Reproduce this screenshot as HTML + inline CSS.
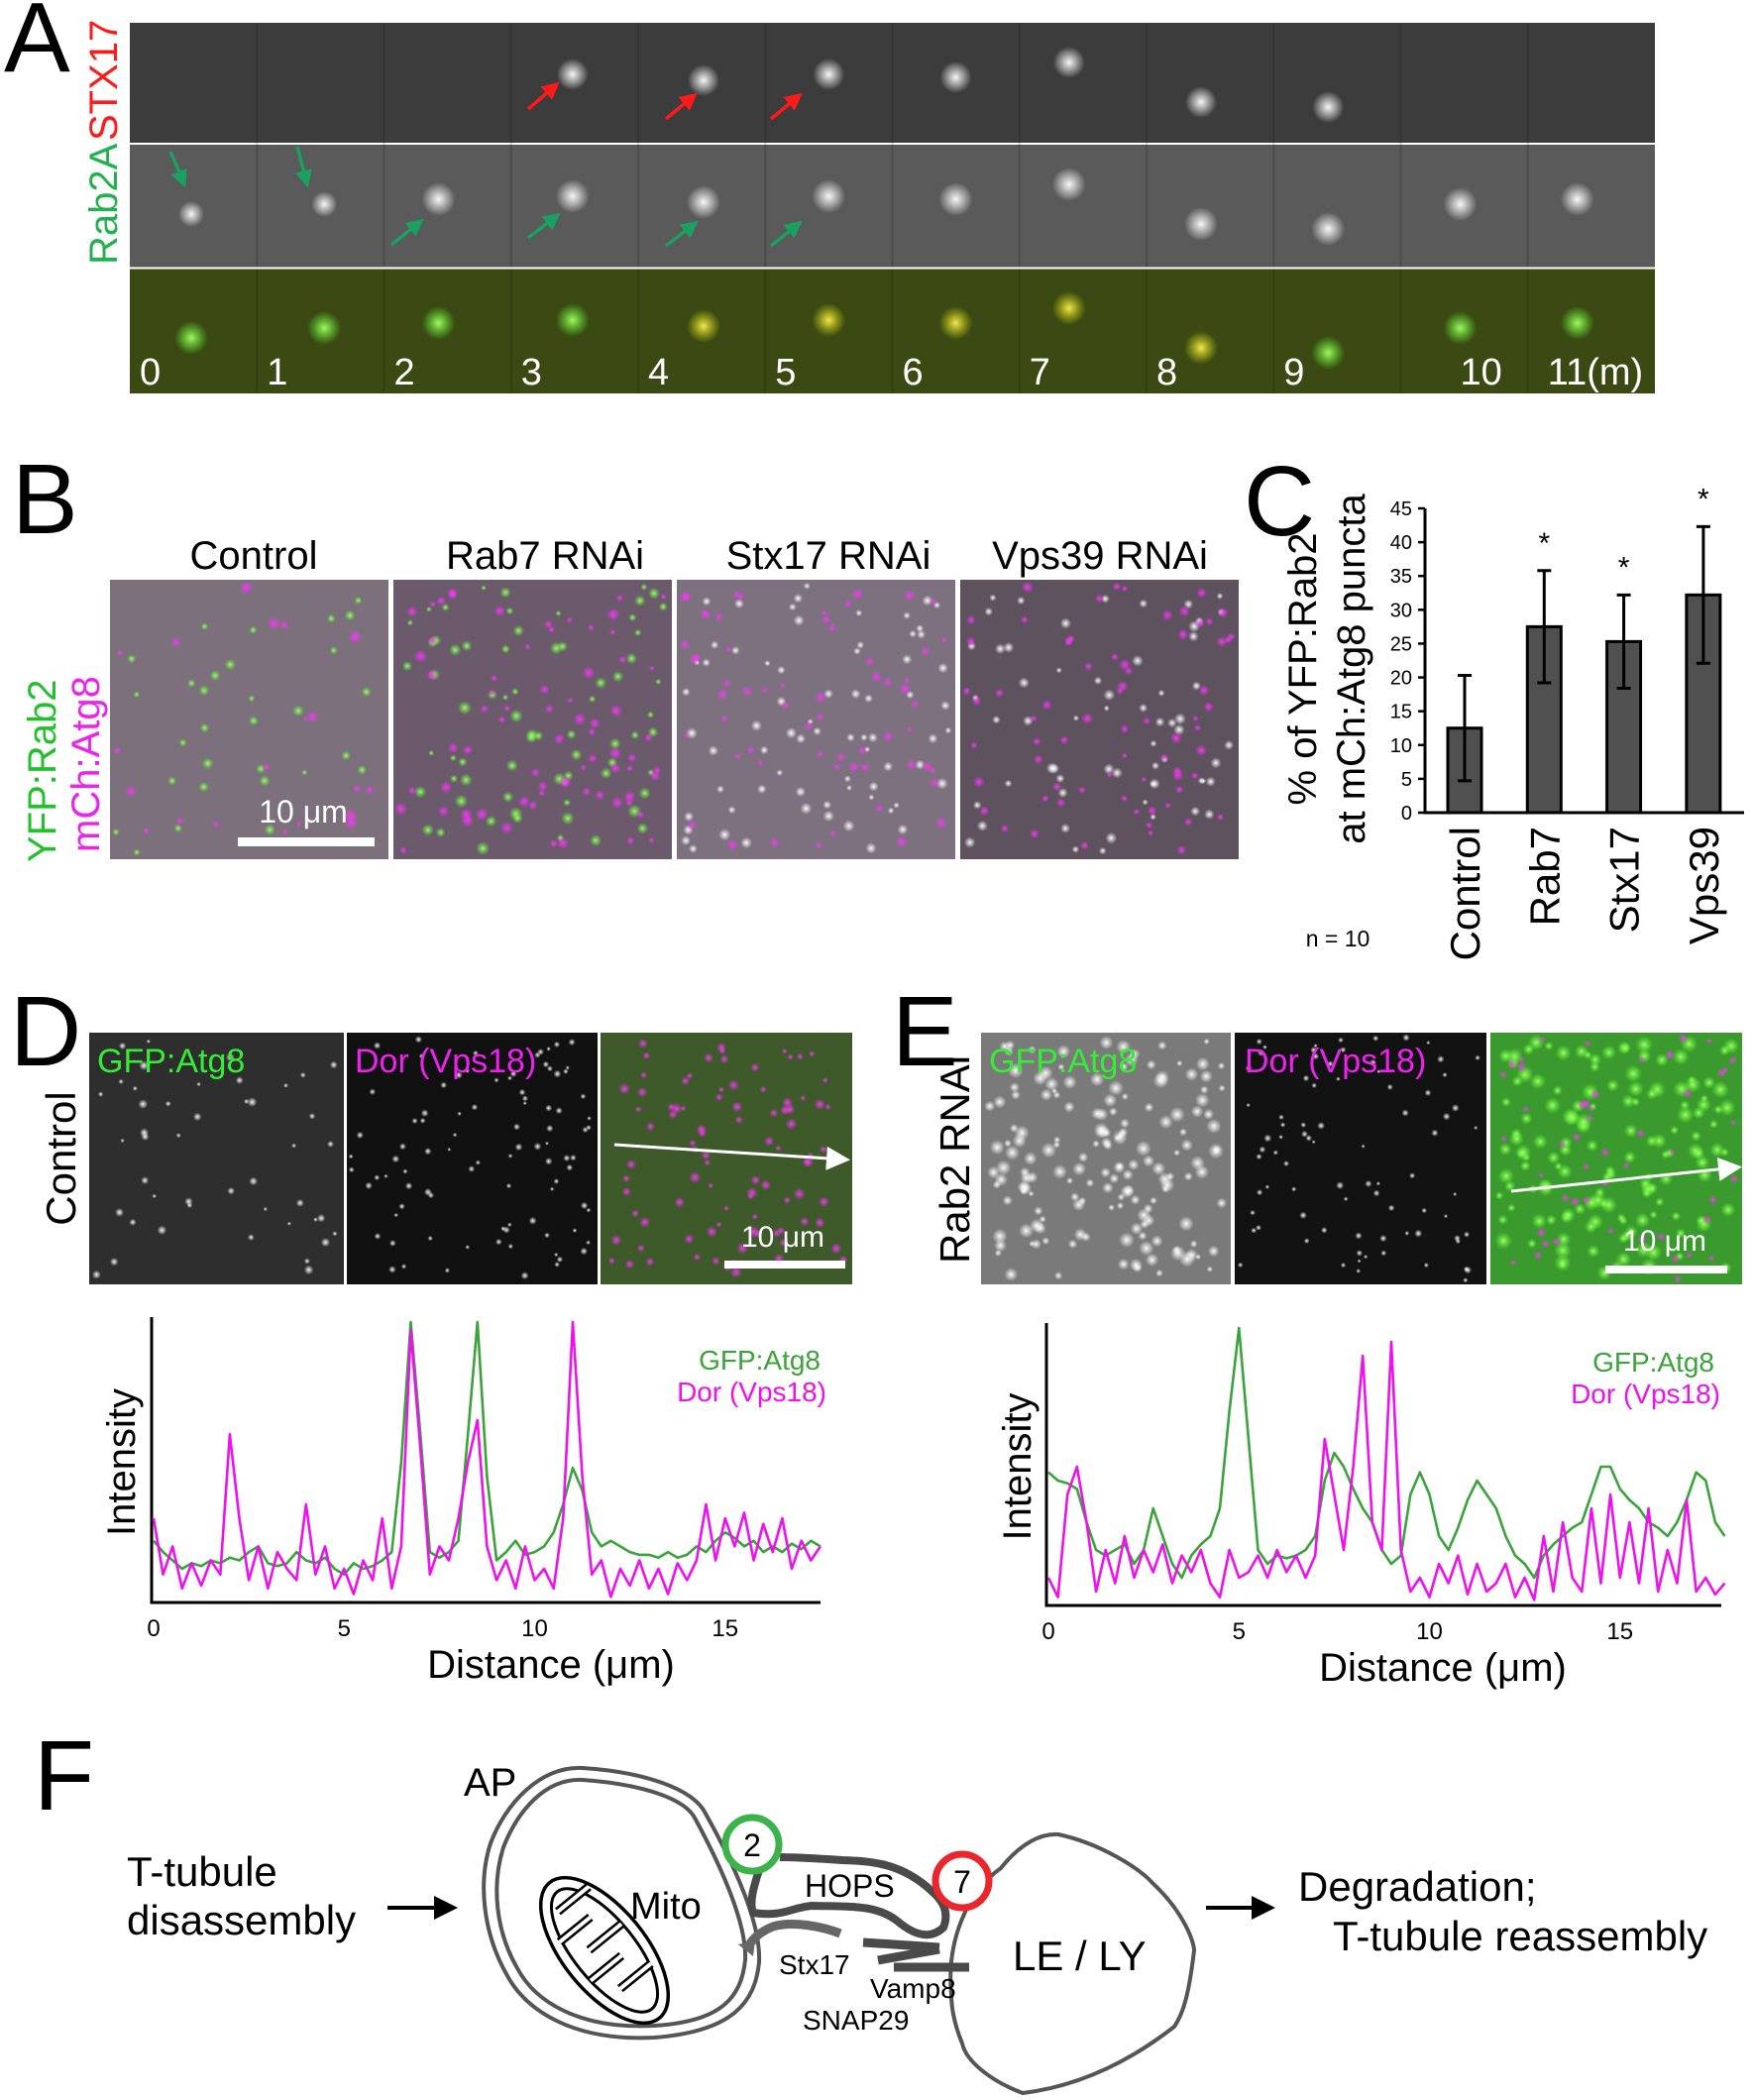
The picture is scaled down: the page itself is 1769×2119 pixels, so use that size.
<!DOCTYPE html>
<html><head><meta charset="utf-8"><style>
html,body{margin:0;padding:0;background:#fff;}
svg{display:block;font-family:"Liberation Sans",sans-serif;}
</style></head><body>
<svg id="fig" width="1769" height="2119" viewBox="0 0 1769 2119" xmlns="http://www.w3.org/2000/svg">
<defs>
<radialGradient id="gw"><stop offset="0" stop-color="#fff" stop-opacity="0.95"/><stop offset="1" stop-color="#fff" stop-opacity="0"/></radialGradient>
<radialGradient id="gg"><stop offset="0" stop-color="#aaff66" stop-opacity="0.95"/><stop offset="1" stop-color="#55ff33" stop-opacity="0"/></radialGradient>
<radialGradient id="gm"><stop offset="0" stop-color="#ff33ff" stop-opacity="0.95"/><stop offset="1" stop-color="#ff33ff" stop-opacity="0"/></radialGradient>
<radialGradient id="gy"><stop offset="0" stop-color="#ffee55" stop-opacity="0.95"/><stop offset="1" stop-color="#ccdd00" stop-opacity="0"/></radialGradient>
<marker id="ah" markerWidth="8" markerHeight="8" refX="6" refY="4" orient="auto" markerUnits="strokeWidth"><path d="M0,0 L8,4 L0,8 z" fill="#fff"/></marker>
<marker id="ahb" markerWidth="6" markerHeight="6" refX="5" refY="3" orient="auto" markerUnits="strokeWidth"><path d="M0,0 L6,3 L0,6 z" fill="#000"/></marker>
<marker id="ahr" markerWidth="5" markerHeight="5" refX="4" refY="2.5" orient="auto" markerUnits="strokeWidth"><path d="M0,0 L5,2.5 L0,5 z" fill="#ff1a1a"/></marker>
<marker id="ahg" markerWidth="5" markerHeight="5" refX="4" refY="2.5" orient="auto" markerUnits="strokeWidth"><path d="M0,0 L5,2.5 L0,5 z" fill="#1aa060"/></marker>
</defs>

<!-- Panel A -->
<g>
<text x="4" y="72" font-size="100">A</text>
<text transform="translate(118,142) rotate(-90)" font-size="40" fill="#ff1a1a">STX17</text>
<text transform="translate(118,267) rotate(-90)" font-size="40" fill="#22b14c">Rab2A</text>
<rect x="131" y="23" width="1539" height="121" fill="#3c3c3c"/>
<rect x="131" y="146" width="1539" height="124" fill="#5a5a5a"/>
<rect x="131" y="271" width="1539" height="126" fill="#3b4a12"/>
<g id="aBlobs"></g>
<g id="aLabels" font-size="38" fill="#fff"></g>
<g stroke-width="3.5" fill="none">
<line x1="533" y1="110" x2="562" y2="85" stroke="#ff1a1a" marker-end="url(#ahr)"/>
<line x1="672" y1="120" x2="701" y2="96" stroke="#ff1a1a" marker-end="url(#ahr)"/>
<line x1="778" y1="120" x2="807" y2="96" stroke="#ff1a1a" marker-end="url(#ahr)"/>
<line x1="172" y1="153" x2="186" y2="186" stroke="#1aa060" marker-end="url(#ahg)"/>
<line x1="300" y1="148" x2="310" y2="186" stroke="#1aa060" marker-end="url(#ahg)"/>
<line x1="395" y1="247" x2="425" y2="223" stroke="#1aa060" marker-end="url(#ahg)"/>
<line x1="533" y1="240" x2="563" y2="217" stroke="#1aa060" marker-end="url(#ahg)"/>
<line x1="672" y1="248" x2="702" y2="225" stroke="#1aa060" marker-end="url(#ahg)"/>
<line x1="778" y1="248" x2="807" y2="225" stroke="#1aa060" marker-end="url(#ahg)"/>
</g>
</g>

<!-- Panel B -->
<g>
<text x="12" y="538" font-size="100">B</text>
<text transform="translate(56,870) rotate(-90)" font-size="40" fill="#22c02c">YFP:Rab2</text>
<text transform="translate(100,860) rotate(-90)" font-size="40" fill="#ee22ee">mCh:Atg8</text>
<text x="256" y="574" font-size="40" text-anchor="middle">Control</text>
<text x="550" y="574" font-size="40" text-anchor="middle">Rab7 RNAi</text>
<text x="836" y="574" font-size="40" text-anchor="middle">Stx17 RNAi</text>
<text x="1110" y="574" font-size="40" text-anchor="middle">Vps39 RNAi</text>
<rect x="111" y="585" width="281" height="282" fill="#7b707c"/>
<rect x="397" y="585" width="281" height="282" fill="#6a5a6c"/>
<rect x="683" y="585" width="281" height="282" fill="#7e717f"/>
<rect x="969" y="585" width="281" height="282" fill="#5e525f"/>
<g id="bBlobs"></g>
<rect x="240" y="845" width="138" height="9" fill="#fff"/>
<text x="306" y="830" font-size="32" fill="#fff" text-anchor="middle">10 μm</text>
</g>

<!-- Panel C -->
<g>
<text x="1255" y="540" font-size="100">C</text>
<g id="chartC"></g>
<text transform="translate(1328,675) rotate(-90)" font-size="40" text-anchor="middle">% of YFP:Rab2</text>
<text transform="translate(1377,675) rotate(-90)" font-size="40" text-anchor="middle">at mCh:Atg8 puncta</text>
<text x="1350" y="955" font-size="23" text-anchor="middle">n = 10</text>
</g>

<!-- Panel D -->
<g>
<text x="10" y="1075" font-size="100">D</text>
<text transform="translate(76,1169) rotate(-90)" font-size="42" text-anchor="middle">Control</text>
<rect x="90" y="1042" width="257" height="254" fill="#2e2e2e"/>
<rect x="350" y="1042" width="253" height="254" fill="#111"/>
<rect x="606" y="1042" width="254" height="254" fill="#3f5a2a"/>
<g id="dBlobs"></g>
<text x="98" y="1082" font-size="34" fill="#33ee33">GFP:Atg8</text>
<text x="358" y="1082" font-size="34" fill="#ee22ee">Dor (Vps18)</text>
<line x1="620" y1="1155" x2="852" y2="1170" stroke="#fff" stroke-width="3" marker-end="url(#ah)"/>
<rect x="731" y="1272" width="122" height="8" fill="#fff"/>
<text x="790" y="1258" font-size="30" fill="#fff" text-anchor="middle">10 μm</text>
<g id="chartD"></g>
</g>

<!-- Panel E -->
<g>
<text x="900" y="1075" font-size="100">E</text>
<text transform="translate(978,1170) rotate(-90)" font-size="42" text-anchor="middle">Rab2 RNAi</text>
<rect x="990" y="1042" width="252" height="254" fill="#7a7a7a"/>
<rect x="1246" y="1042" width="254" height="254" fill="#121212"/>
<rect x="1504" y="1042" width="254" height="254" fill="#3a9a2e"/>
<g id="eBlobs"></g>
<text x="998" y="1082" font-size="34" fill="#33ee33">GFP:Atg8</text>
<text x="1256" y="1082" font-size="34" fill="#ee22ee">Dor (Vps18)</text>
<line x1="1525" y1="1202" x2="1752" y2="1178" stroke="#fff" stroke-width="3" marker-end="url(#ah)"/>
<rect x="1620" y="1277" width="123" height="8" fill="#fff"/>
<text x="1680" y="1262" font-size="30" fill="#fff" text-anchor="middle">10 μm</text>
<g id="chartE"></g>
</g>

<!-- Panel F -->
<g>
<text x="34" y="1826" font-size="100">F</text>
<text x="128" y="1903" font-size="42">T-tubule</text>
<text x="128" y="1952" font-size="42">disassembly</text>
<line x1="391" y1="1925" x2="458" y2="1925" stroke="#000" stroke-width="4" marker-end="url(#ahb)"/>
<line x1="1217" y1="1925" x2="1283" y2="1925" stroke="#000" stroke-width="4" marker-end="url(#ahb)"/>
<text x="1310" y="1918" font-size="42">Degradation;</text>
<text x="1345" y="1968" font-size="42">T-tubule reassembly</text>
<text x="468" y="1812" font-size="40">AP</text>
<path d="M588,1784 C650,1788 700,1805 712,1830 C740,1880 768,1940 766,1980 C762,2020 740,2050 660,2056 C580,2060 530,2030 510,1990 C488,1950 482,1900 495,1860 C510,1820 545,1782 588,1784 Z" fill="none" stroke="#555" stroke-width="4"/>
<path d="M588,1796 C645,1800 692,1814 702,1836 C728,1884 754,1942 752,1978 C748,2014 730,2040 660,2044 C585,2048 540,2020 522,1986 C500,1948 496,1902 508,1864 C522,1828 550,1794 588,1796 Z" fill="none" stroke="#555" stroke-width="4"/>
<g transform="translate(610,1968) rotate(51)">
<ellipse rx="88" ry="42" fill="none" stroke="#000" stroke-width="3.5"/>
<ellipse rx="76" ry="31" fill="none" stroke="#000" stroke-width="3"/>
<path d="M-60,-28 L-60,12 M-35,30 L-35,-10 M-10,-30 L-10,12 M15,30 L15,-10 M40,-28 L40,12" stroke="#000" stroke-width="9" fill="none"/>
<path d="M-60,-28 L-60,12 M-35,30 L-35,-10 M-10,-30 L-10,12 M15,30 L15,-10 M40,-28 L40,12" stroke="#fff" stroke-width="4" fill="none"/>
</g>
<text x="636" y="1936" font-size="38">Mito</text>
<path d="M960,2012 C955,1960 975,1910 1010,1885 C1030,1860 1050,1850 1068,1851 C1110,1860 1150,1885 1164,1901 C1195,1930 1205,1960 1205,1968 C1200,2010 1195,2030 1185,2045 C1140,2080 1090,2105 1032,2112 C1000,2100 975,2080 971,2062 C962,2040 960,2025 960,2012 Z" fill="none" stroke="#555" stroke-width="4"/>
<text x="1022" y="1988" font-size="42">LE / LY</text>
<path d="M767,1884 C760,1905 756,1920 760,1930 C790,1935 800,1924 820,1923 C860,1924 884,1922 905,1938 C925,1955 940,1956 952,1945 C958,1930 952,1918 940,1908 C910,1880 880,1878 850,1877 C820,1875 800,1874 787,1874" fill="none" stroke="#4a4a4a" stroke-width="8"/>
<text x="812" y="1914" font-size="32">HOPS</text>
<path d="M848,1951 C830,1944 800,1938 780,1944 C765,1950 758,1958 754,1966" fill="none" stroke="#666" stroke-width="9"/>
<path d="M745,1962 L762,1958 L760,1974 Z" fill="#666"/>
<path d="M871,1960 L948,1965 M886,1978 L948,1967 M902,1985 L978,1985" fill="none" stroke="#4a4a4a" stroke-width="9"/>
<text x="786" y="1992" font-size="28">Stx17</text>
<text x="878" y="2016" font-size="28">Vamp8</text>
<text x="810" y="2048" font-size="28">SNAP29</text>
<circle cx="759" cy="1861" r="27" fill="#fff" stroke="#3bb34a" stroke-width="7"/>
<text x="759" y="1873" font-size="32" text-anchor="middle">2</text>
<circle cx="971" cy="1898" r="27" fill="#fff" stroke="#e8262b" stroke-width="7"/>
<text x="971" y="1910" font-size="32" text-anchor="middle">7</text>
</g>
</svg>

<script>
const NS='http://www.w3.org/2000/svg';
function mk(tag,attrs,parent){const e=document.createElementNS(NS,tag);for(const k in attrs)e.setAttribute(k,attrs[k]);parent.appendChild(e);return e;}

// ---------- Chart C data ----------
const cCategories=['Control','Rab7','Stx17','Vps39'];
const cMeans=[12.5,27.5,25.3,32.2];
const cErrors=[7.8,8.3,6.9,10.1];
const cSignificant=[false,true,true,true];
const cTicks=[0,5,10,15,20,25,30,35,40,45];

// ---------- Line-profile data (x step 0.25 µm) ----------
const profileStep=0.25;
const dGfp=[22,18,15,12,14,13,15,14,16,15,18,20,14,13,14,18,15,14,16,12,10,14,12,13,15,18,50,100,60,18,16,18,22,60,100,45,15,18,22,17,18,20,25,35,48,40,25,20,22,20,18,17,17,16,18,16,17,20,18,22,25,23,20,22,18,20,18,21,19,22,20];
const dDor=[30,10,20,5,14,6,15,10,60,30,8,20,5,18,12,8,35,10,20,5,12,3,15,8,30,5,20,97,55,10,20,15,30,50,65,20,8,15,5,20,8,12,5,30,100,45,10,15,2,12,6,15,5,12,3,14,8,15,35,15,30,20,32,15,28,18,30,12,22,15,20];
const eGfp=[48,45,44,42,30,20,18,20,22,15,20,35,25,15,10,18,22,25,35,70,100,60,20,15,18,17,18,20,25,45,55,50,42,35,30,20,15,18,40,48,40,25,20,28,38,45,40,35,25,18,15,10,18,22,25,28,30,40,50,50,42,38,35,30,28,25,30,38,48,45,30,25];
const eDor=[10,3,40,50,30,5,20,8,25,10,20,12,22,8,18,12,20,8,3,20,10,12,18,10,20,12,18,10,18,60,40,20,50,90,30,20,95,20,5,10,3,15,8,18,4,15,5,8,15,3,10,2,25,5,30,10,5,35,8,40,10,30,8,35,5,20,8,38,5,10,4,8];
const xTicks=[0,5,10,15];

// ---------- Chart C ----------
(function(){
  const g=document.getElementById('chartC');
  const x0=1438,y0=820,yTop=513,xEnd=1760,centers0=1478,gap=80.3,bw=34;
  const ys=v=>y0-(v/45)*(y0-yTop);
  const xs=i=>centers0+i*gap;
  const ax=mk('path',{d:`M${x0},${yTop} L${x0},${y0} L${xEnd},${y0}`,fill:'none',stroke:'#000','stroke-width':3},g);
  
  
  cTicks.forEach(t=>{
    const l=mk('line',{x1:x0-7,x2:x0,y1:ys(t),y2:ys(t),stroke:'#000','stroke-width':2.5},g);
    
    
    const tx=mk('text',{x:x0-13,y:ys(t)+7,'font-size':20,'text-anchor':'end'},g);
    tx.textContent=t;
    
    
  });
  cCategories.forEach((c,i)=>{
    const b=mk('rect',{x:xs(i)-bw/2,y:ys(cMeans[i]),width:bw,height:y0-ys(cMeans[i]),fill:'#505050',stroke:'#000','stroke-width':3},g);
    
    
    const hi=ys(cMeans[i]+cErrors[i]),lo=ys(cMeans[i]-cErrors[i]);
    const e=mk('path',{d:`M${xs(i)},${hi} L${xs(i)},${lo} M${xs(i)-7},${hi} L${xs(i)+7},${hi} M${xs(i)-7},${lo} L${xs(i)+7},${lo}`,stroke:'#000','stroke-width':3,fill:'none'},g);
    
    
    if(cSignificant[i]){
      const s=mk('text',{x:xs(i),y:hi-18,'font-size':30,'text-anchor':'middle'},g);
      s.textContent='*';
      
      
    }
    const t=mk('text',{transform:`translate(${xs(i)+15},834) rotate(-90)`,'font-size':42,'text-anchor':'end'},g);
    t.textContent=c;
    
    
  });
})();

// ---------- Line profiles ----------
function profile(gid,opt,green,mag){
  const g=document.getElementById(gid);
  const xs=v=>opt.x0+v*opt.ppu;
  const ys=v=>opt.base-(v/100)*(opt.base-opt.top);
  const ax=mk('path',{d:`M${opt.axisX},${opt.top-5} L${opt.axisX},${opt.base} L${opt.xEnd},${opt.base}`,fill:'none',stroke:'#000','stroke-width':3},g);
  
  
  xTicks.forEach(t=>{
    const tx=mk('text',{x:xs(t),y:opt.base+34,'font-size':24,'text-anchor':'middle'},g);
    tx.textContent=t;
    
    
  });
  [[green,'#3aa33a','gfp-atg8-line'],[mag,'#ee11ee','dor-vps18-line']].forEach(([arr,col,name])=>{
    const d=arr.map((v,i)=>(i?'L':'M')+xs(i*profileStep).toFixed(1)+','+ys(v).toFixed(1)).join(' ');
    const p=mk('path',{d:d,fill:'none',stroke:col,'stroke-width':2.6,'stroke-linejoin':'round'},g);
    
    
  });
  const xt=mk('text',{x:opt.xTitle,y:opt.base+76,'font-size':40,'text-anchor':'middle'},g);
  xt.textContent='Distance (μm)';
  
  
  const yt=mk('text',{transform:`translate(${opt.yTitleX},${(opt.base+opt.top)/2}) rotate(-90)`,'font-size':40,'text-anchor':'middle'},g);
  yt.textContent='Intensity';
  
  
  const l1=mk('text',{x:opt.legX,y:opt.legY,'font-size':28,fill:'#3aa33a','text-anchor':'end'},g);
  l1.textContent='GFP:Atg8';
  
  
  const l2=mk('text',{x:opt.legX+6,y:opt.legY+32,'font-size':28,fill:'#ee11ee','text-anchor':'end'},g);
  l2.textContent='Dor (Vps18)';
  
  
}
profile('chartD',{x0:155,ppu:38.45,axisX:153,xEnd:828,base:1617,top:1334,xTitle:556,yTitleX:136,legX:828,legY:1382},dGfp,dDor);
profile('chartE',{x0:1058,ppu:38.45,axisX:1056,xEnd:1737,base:1620,top:1340,xTitle:1456,yTitleX:1040,legX:1730,legY:1384},eGfp,eDor);

// ---------- decorative microscopy textures ----------
let seed=7;function rnd(){seed=(seed*16807)%2147483647;return seed/2147483647;}
function blobs(gid,x,y,w,h,n,grad,rmin,rmax){
  const g=document.getElementById(gid);
  for(let i=0;i<n;i++){
    const c=mk('circle',{cx:(x+rmax+rnd()*(w-2*rmax)).toFixed(1),cy:(y+rmax+rnd()*(h-2*rmax)).toFixed(1),r:(rmin+rnd()*(rmax-rmin)).toFixed(1),fill:`url(#${grad})`},g);
    
    
  }
}
const aFrameSpots=[[62,70],[68,60],[55,55],[62,52],[66,58],[64,52],[64,55],[50,40],[55,80],[55,85],[60,60],[50,55]];
(function(){
  const g=document.getElementById('aBlobs');
  const lab=document.getElementById('aLabels');
  const fw=128.25;
  const names=['0','1','2','3','4','5','6','7','8','9','10','11(m)'];
  for(let i=0;i<12;i++){
    const fx=131+i*fw;
    const [sx,sy]=aFrameSpots[i];
    const vis=i>=3&&i<=9;
    if(vis) mk('circle',{cx:fx+sx,cy:23+sy,r:16,fill:'url(#gw)'},g);
    mk('circle',{cx:fx+sx,cy:146+sy,r:i<2?13:17,fill:'url(#gw)'},g);
    mk('circle',{cx:fx+sx,cy:271+sy,r:17,fill:i>=4&&i<=8?'url(#gy)':'url(#gg)'},g);
    const t=mk('text',{x:fx+(i>=10?(i==10?60:20):10),y:388},lab);
    t.textContent=names[i];
    
    
    if(i>0){mk('line',{x1:fx,x2:fx,y1:23,y2:397,stroke:'#000','stroke-opacity':0.15,'stroke-width':2},g);}
  }
  mk('line',{x1:131,x2:1670,y1:270.5,y2:270.5,stroke:'#fff','stroke-width':2},g);
})();
blobs('bBlobs',111,585,281,282,30,'gg',3,6);blobs('bBlobs',111,585,281,282,20,'gm',3,7);
blobs('bBlobs',397,585,281,282,70,'gg',3,7);blobs('bBlobs',397,585,281,282,70,'gm',3,7);
blobs('bBlobs',683,585,281,282,70,'gw',3,6);blobs('bBlobs',683,585,281,282,60,'gm',3,6);
blobs('bBlobs',969,585,281,282,60,'gw',3,6);blobs('bBlobs',969,585,281,282,70,'gm',3,6);
blobs('dBlobs',90,1042,257,254,45,'gw',2,5);blobs('dBlobs',350,1042,253,254,90,'gw',2,4);
blobs('dBlobs',606,1042,254,254,90,'gm',3,6);
blobs('eBlobs',990,1042,252,254,160,'gw',3,8);blobs('eBlobs',1246,1042,254,254,80,'gw',2,4);
blobs('eBlobs',1504,1042,254,254,140,'gg',4,9);blobs('eBlobs',1504,1042,254,254,50,'gm',3,5);
</script>
</body></html>
